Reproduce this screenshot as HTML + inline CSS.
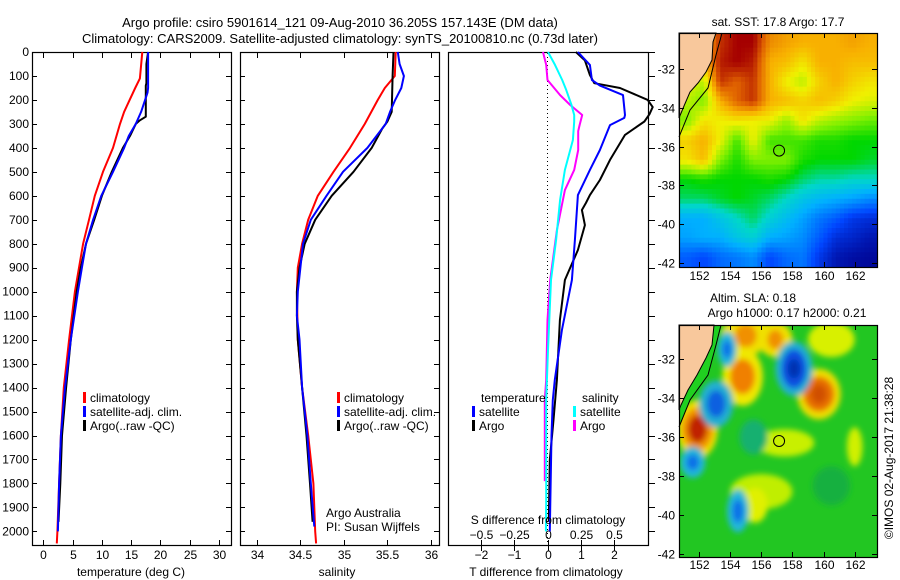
<!DOCTYPE html>
<html><head><meta charset="utf-8"><style>
html,body{margin:0;padding:0;background:#fff;}
svg{display:block;font-family:"Liberation Sans",sans-serif;}
text{font-size:12px;fill:#000;}
</style></head><body>
<svg id="root" width="900" height="580" viewBox="0 0 900 580" xmlns="http://www.w3.org/2000/svg">
<defs><filter id="blur" x="-50%" y="-50%" width="200%" height="200%"><feGaussianBlur stdDeviation="3"/></filter>
<clipPath id="map2clip"><rect x="679" y="325" width="198" height="232"/></clipPath>
<clipPath id="map1clip"><rect x="679" y="33" width="198" height="234"/></clipPath></defs>
<text x="340" y="27" text-anchor="middle" style="font-size:13px">Argo profile: csiro 5901614_121 09-Aug-2010 36.205S 157.143E (DM data)</text>
<text x="340" y="43" text-anchor="middle" style="font-size:13px">Climatology: CARS2009. Satellite-adjusted climatology: synTS_20100810.nc (0.73d later)</text>
</svg>
<script>
// ---- data ----
const depthTicks=[0,100,200,300,400,500,600,700,800,900,1000,1100,1200,1300,1400,1500,1600,1700,1800,1900,2000];
const tempTicks=[0,5,10,15,20,25,30];
const salTicks=[34,34.5,35,35.5,36];
const tdiffTicks=[-2,-1,0,1,2];
const sdiffTicks=[-0.5,-0.25,0,0.25,0.5];
const sdiffTickLabels=["-0.5","-0.25","0","0.25","0.5"];

const climTDepth=[0,110,150,250,300,400,500,600,700,800,900,1000,1200,1400,1600,1800,2000,2050];
const climT=[16.9,16.5,15.7,13.8,13.1,11.9,10.2,8.8,7.8,6.8,6.1,5.4,4.4,3.5,3.0,2.7,2.4,2.3];
const satTDepth=[0,150,170,250,300,350,400,500,600,700,800,900,1000,1200,1400,1600,1800,2000];
const satT=[17.9,17.9,17.8,16.7,15.8,14.6,13.8,11.9,9.9,8.5,7.3,6.6,5.9,4.7,3.7,3.0,2.7,2.5];
const argoTDepth=[0,50,130,140,270,285,300,350,400,500,600,700,800,900,1000,1200,1400,1600,1800,1960];
const argoT=[17.9,17.6,17.6,17.5,17.5,16.5,15.8,14.8,13.6,11.7,10.0,8.7,7.3,6.4,5.7,4.7,3.9,3.2,2.9,2.6];

const climSDepth=[0,100,150,200,300,400,500,600,700,800,900,1000,1200,1400,1600,1800,2000,2050];
const climS=[35.595,35.585,35.47,35.39,35.24,35.07,34.88,34.70,34.59,34.52,34.47,34.46,34.47,34.52,34.59,34.65,34.67,34.68];
const satSDepth=[0,50,100,150,200,250,300,400,500,600,700,800,900,1000,1100,1200,1400,1600,1800,1980];
const satS=[35.62,35.64,35.69,35.66,35.59,35.53,35.48,35.27,34.99,34.80,34.62,34.53,34.50,34.47,34.46,34.49,34.52,34.58,34.62,34.66];
const argoSDepth=[0,100,250,290,320,400,500,600,700,800,900,1000,1100,1200,1400,1600,1800,1960];
const argoS=[35.57,35.56,35.55,35.50,35.44,35.32,35.11,34.86,34.67,34.55,34.49,34.46,34.46,34.47,34.52,34.57,34.61,34.64];

const satTdDepth=[0,54,117,140,180,263,275,305,409,492,597,784,951,1160,1368,1452,1600,2000];
const satTd=[0.91,1.27,1.33,1.57,2.26,2.32,2.3,1.87,1.57,1.27,0.91,0.82,0.73,0.43,0.22,0.16,0.12,0.07];
const argoTdDepth=[0,35,96,130,150,200,230,260,290,346,450,534,597,630,659,722,826,951,1118,1368,1535,1702,1960];
const argoTd=[0.85,1.12,1.27,1.4,2.17,3.0,3.15,3.05,2.9,2.32,1.87,1.57,1.27,1.15,1.03,1.12,0.91,0.52,0.37,0.28,0.18,0.07,0.04];
const satSdDepth=[0,54,117,158,221,263,290,367,492,617,784,951,1243,1450,1869,2000];
const satSd=[0.004,0.056,0.11,0.14,0.18,0.2,0.2,0.19,0.13,0.094,0.064,0.026,0.004,-0.01,-0.01,-0.012];
const argoSdDepth=[0,54,117,180,221,263,305,330,409,492,576,743,951,1118,1368,1452,1790];
const argoSd=[-0.034,-0.01,0.0,0.094,0.17,0.26,0.24,0.23,0.23,0.2,0.13,0.07,0.02,0.0,-0.01,-0.02,-0.02];

const NS="http://www.w3.org/2000/svg";
const root=document.getElementById('root');
function mk(tag,attrs,parent){const e=document.createElementNS(NS,tag);for(const k in attrs)e.setAttribute(k,attrs[k]);(parent||root).appendChild(e);return e;}
function txt(x,y,s,anchor,parent){const e=mk('text',{x:x,y:y,'text-anchor':anchor||'start'},parent);e.textContent=s;return e;}

const Y0=52,YS=0.2397;
const yD=d=>Y0+d*YS;
const xT=v=>43.3+5.856*v;
const xS=v=>256.9+87.0*(v-34);
const xTd=v=>547.5+33.4*v;
const xSd=v=>547.5+133.6*v;
const panels=[[32,231],[240,439],[448,648]];

panels.forEach((p,i)=>{
  const r=mk('rect',{x:p[0]+0.5,y:52.5,width:p[1]-p[0],height:493,fill:'none',stroke:'#000','stroke-width':1.2});
  
  
  depthTicks.forEach(d=>{
    const y=Math.round(yD(d))+0.5;
    if(i<2){
      const t=mk('line',{x1:p[0],x2:p[0]+5,y1:y,y2:y,stroke:'#000'});
      
      
      const t2=mk('line',{x1:p[1]-5,x2:p[1],y1:y,y2:y,stroke:'#000'});
      
      
    } else {
      const t=mk('line',{x1:p[1]+1,x2:p[1]+7,y1:y,y2:y,stroke:'#000'});
      
      
    }
  });
});
depthTicks.forEach(d=>{
  const l=txt(29,yD(d)+4,String(d),'end');
  
  
});
function xticks(ticks,fx,name){
  ticks.forEach(v=>{
    const x=Math.round(fx(v))+0.5;
    const a=mk('line',{x1:x,x2:x,y1:540,y2:545,stroke:'#000'});
    
    
    const b=mk('line',{x1:x,x2:x,y1:53,y2:58,stroke:'#000'});
    
    
    const t=txt(x,559,String(v),'middle');
    
    
  });
}
xticks(tempTicks,xT,'temperature');
xticks(salTicks,xS,'salinity');
tdiffTicks.forEach(v=>{
  const x=Math.round(xTd(v))+0.5;
  const a=mk('line',{x1:x,x2:x,y1:546,y2:551,stroke:'#000'});
  
  
  const t=txt(x,559,String(v).replace('-','\u2212'),'middle');
  
  
});
sdiffTicks.forEach((v,i)=>{
  const x=Math.round(xSd(v))+0.5;
  const a=mk('line',{x1:x,x2:x,y1:540,y2:545,stroke:'#000'});
  
  
  const t=txt(x,539,sdiffTickLabels[i].replace('-','\u2212'),'middle');
  
  
});
const zl=mk('line',{x1:547.5,x2:547.5,y1:53,y2:545,stroke:'#000','stroke-dasharray':'1,3'});



function series(depths,vals,fx,color,name){
  let d='';
  depths.forEach((dp,i)=>{d+=(i?'L':'M')+fx(vals[i]).toFixed(1)+','+yD(dp).toFixed(1);});
  const p=mk('path',{d:d,fill:'none',stroke:color,'stroke-width':2,'stroke-linejoin':'round'});
  
  
}
series(climTDepth,climT,xT,'#f00','temperature-climatology-line');
series(argoTDepth,argoT,xT,'#000','temperature-argo-line');
series(satTDepth,satT,xT,'#00f','temperature-satellite-line');
series(climSDepth,climS,xS,'#f00','salinity-climatology-line');
series(argoSDepth,argoS,xS,'#000','salinity-argo-line');
series(satSDepth,satS,xS,'#00f','salinity-satellite-line');
series(argoSdDepth,argoSd,xSd,'#f0f','sdiff-argo-line');
series(satSdDepth,satSd,xSd,'#0ff','sdiff-satellite-line');
series(argoTdDepth,argoTd,xTd,'#000','tdiff-argo-line');
series(satTdDepth,satTd,xTd,'#00f','tdiff-satellite-line');

function legItem(x,y,color,label,name){
  const r=mk('rect',{x:x,y:y-10,width:3,height:11,fill:color});
  
  
  const t=txt(x+7,y,label);
  
  
}
[[83,'temp'],[337,'sal']].forEach(([x,n])=>{
  legItem(x,402,'#f00','climatology',n+'-legend-climatology');
  legItem(x,416,'#00f','satellite-adj. clim.',n+'-legend-satellite');
  legItem(x,430,'#000','Argo(..raw -QC)',n+'-legend-argo');
});
const lt=txt(481,402,'temperature');
const ls=txt(582,402,'salinity');
legItem(472,416,'#00f','satellite','diff-legend-t-satellite');
legItem(472,430,'#000','Argo','diff-legend-t-argo');
legItem(573,416,'#0ff','satellite','diff-legend-s-satellite');
legItem(573,430,'#f0f','Argo','diff-legend-s-argo');

[[131,576,'temperature (deg C)','temperature-axis-title'],[337,576,'salinity','salinity-axis-title'],[546,576,'T difference from climatology','tdiff-axis-title'],[548,524,'S difference from climatology','sdiff-axis-title']].forEach(a=>{
  const t=txt(a[0],a[1],a[2],'middle');
});
const c1=txt(326,517,'Argo Australia');
const c2=txt(326,531,'PI: Susan Wijffels');

// ---- maps ----
const mx=lon=>699+(lon-152)*15.57;
const my1=lat=>69+(-32-lat)*19.4;
const my2=lat=>359+(-32-lat)*19.5;
const stops=[[0,[0,0,140]],[0.15,[0,70,255]],[0.3,[0,176,255]],[0.4,[0,215,200]],[0.5,[0,215,0]],[0.6,[130,240,0]],[0.7,[240,240,0]],[0.8,[248,176,0]],[0.9,[225,100,0]],[1,[165,0,0]]];
function cmap(v){v=Math.max(0,Math.min(1,v));for(let i=1;i<stops.length;i++){if(v<=stops[i][0]){const a=stops[i-1],b=stops[i],f=(v-a[0])/(b[0]-a[0]);return 'rgb('+a[1].map((c,k)=>Math.round(c+(b[1][k]-c)*f)).join(',')+')';}}return 'rgb(165,0,0)';}
const sstGrid=[
[0.8,0.8,0.95,1,1,0.85,0.82,0.8,0.8,0.8,0.82,0.8],
[0.8,0.8,0.97,1,0.97,0.8,0.78,0.72,0.8,0.8,0.78,0.78],
[0.7,0.65,0.95,0.9,0.95,0.8,0.7,0.65,0.75,0.8,0.75,0.72],
[0.65,0.6,0.8,0.9,0.95,0.8,0.78,0.75,0.78,0.75,0.7,0.68],
[0.6,0.72,0.7,0.72,0.7,0.7,0.62,0.72,0.65,0.62,0.6,0.58],
[0.75,0.8,0.7,0.55,0.7,0.55,0.55,0.55,0.52,0.52,0.5,0.5],
[0.72,0.78,0.6,0.52,0.6,0.6,0.6,0.52,0.5,0.5,0.5,0.48],
[0.5,0.52,0.5,0.5,0.5,0.52,0.5,0.45,0.42,0.42,0.4,0.4],
[0.45,0.45,0.48,0.5,0.48,0.45,0.4,0.35,0.32,0.3,0.28,0.25],
[0.3,0.3,0.35,0.4,0.45,0.38,0.33,0.28,0.22,0.18,0.12,0.1],
[0.28,0.3,0.3,0.35,0.38,0.3,0.28,0.25,0.18,0.1,0.08,0.05],
[0.18,0.15,0.2,0.22,0.25,0.15,0.2,0.22,0.12,0.05,0.03,0.02]];
const g1=mk('g',{'clip-path':'url(#map1clip)'});


const SUB=4,NC=12*SUB,NR=12*SUB,cw=198/NC,ch=234/NR;
function sample(r,c){ // bilinear in grid-cell centre coords
  const fr=Math.max(0,Math.min(11,(r+0.5)/SUB-0.5)),fc=Math.max(0,Math.min(11,(c+0.5)/SUB-0.5));
  const r0=Math.floor(fr),c0=Math.floor(fc),r1=Math.min(11,r0+1),c1=Math.min(11,c0+1),a=fr-r0,b=fc-c0;
  return sstGrid[r0][c0]*(1-a)*(1-b)+sstGrid[r0][c1]*(1-a)*b+sstGrid[r1][c0]*a*(1-b)+sstGrid[r1][c1]*a*b;
}
for(let r=0;r<NR;r++)for(let c=0;c<NC;c++){
  const cell=mk('rect',{x:(679+c*cw).toFixed(2),y:(33+r*ch).toFixed(2),width:(cw+0.5).toFixed(2),height:(ch+0.5).toFixed(2),fill:cmap(sample(r,c))},g1);
  
  
}
const g2=mk('g',{'clip-path':'url(#map2clip)'});


mk('rect',{x:679,y:325,width:198,height:232,fill:'#22c622'},g2);
const gb=mk('g',{filter:'url(#blur)'},g2);
const blobs=[
[157.5,-36.3,1.9,0.7,'#c8f000'],[156,-38.8,2.0,0.9,'#c0ee00'],[155.6,-39.5,0.8,0.9,'#e0f000'],[162,-36.5,0.5,1.0,'#d0f000'],[160.5,-31,1.5,0.9,'#d8f000'],
[155,-30.8,1.6,1.0,'#f0e000'],[155,-30.8,0.7,0.6,'#f09000'],[156.9,-31,1.1,0.9,'#f0e000'],[156.9,-31,0.5,0.5,'#f09000'],
[154.8,-32.9,1.3,1.5,'#f0e800'],[154.8,-32.9,0.8,0.9,'#f08000'],
[159.7,-33.8,1.4,1.3,'#f0e000'],[159.7,-33.8,1.0,0.9,'#e87000'],[159.7,-33.8,0.5,0.5,'#d05000'],
[151.9,-35.6,1.3,1.5,'#f0e000'],[151.9,-35.6,1.0,1.1,'#f09000'],[151.9,-35.6,0.6,0.7,'#c02000'],
[158.1,-32.5,1.2,1.4,'#20b0d0'],[158.1,-32.5,0.8,1.0,'#1050e0'],[158.1,-32.5,0.4,0.5,'#0030b0'],
[153.1,-34.3,1.1,1.2,'#20b0d0'],[153.1,-34.3,0.6,0.7,'#1060e0'],
[151.6,-37.3,0.8,0.8,'#20b8d8'],[151.6,-37.3,0.4,0.4,'#1070e8'],
[154.5,-39.8,0.7,1.1,'#20b8d8'],[154.5,-39.8,0.35,0.6,'#1070e8'],
[153.8,-31.5,0.6,0.9,'#20b8d8'],[153.8,-31.5,0.3,0.45,'#1070e8'],
[155.5,-36,0.9,0.9,'#18b070'],[160.5,-38.5,1.2,1.0,'#18b040']];
blobs.forEach(b=>{
  const e=mk('ellipse',{cx:mx(b[0]),cy:my2(b[1]),rx:b[2]*15.57,ry:b[3]*19.5,fill:b[4]},gb);
  
  
});
[[33,[[679,33],[716,33],[713,42],[712,60],[706,72],[698,83],[690,92],[684,106],[679,118]],[[722,33],[716,55],[708,88],[690,110],[679,137]],'sst'],
 [325,[[679,325],[714,325],[712,345],[706,358],[697,375],[688,390],[681,405],[679,410]],[[721,325],[716,345],[708,375],[690,400],[679,427]],'sla']].forEach(([top,land,shelf,n])=>{
  if(n==='sla'){
    const shelfPoly=mk('polygon',{points:[[679,top]].concat(shelf).concat([[679,top+200]]).map(p=>p.join(',')).join(' '),fill:'#20d020',stroke:'none'});
    
    
  }
  const l=mk('polygon',{points:land.map(p=>p.join(',')).join(' '),fill:'#f8c89c',stroke:'#000','stroke-width':1});
  
  
  const s=mk('polyline',{points:shelf.map(p=>p.join(',')).join(' '),fill:'none',stroke:'#000','stroke-width':1});
  
  
});
const latTicks=[-32,-34,-36,-38,-40,-42];
const lonTicks=[152,154,156,158,160,162];
[[33,267,my1,280,'sst'],[325,557,my2,569,'sla']].forEach(([t,b,fy,ly,n])=>{
  const fr=mk('rect',{x:679.5,y:t+0.5,width:198,height:b-t,fill:'none',stroke:'#000','stroke-width':1.2});
  
  
  latTicks.forEach(v=>{
    const y=Math.round(fy(v))+0.5;
    const a=mk('line',{x1:679,x2:684,y1:y,y2:y,stroke:'#000'});
    const c=mk('line',{x1:872,x2:877,y1:y,y2:y,stroke:'#000'});
    const l=txt(675,y+4,String(v),'end');
  });
  lonTicks.forEach(v=>{
    const x=Math.round(mx(v))+0.5;
    const a=mk('line',{x1:x,x2:x,y1:t,y2:t+5,stroke:'#000'});
    const c=mk('line',{x1:x,x2:x,y1:b-5,y2:b,stroke:'#000'});
    const l=txt(x,ly,String(v),'middle');
  });
  const pos=mk('circle',{cx:mx(157.143),cy:fy(-36.205),r:5.5,fill:'none',stroke:'#000','stroke-width':1});
  
  
});
[[778,26,'sat. SST: 17.8 Argo: 17.7','sst-map-title'],[753,302,'Altim. SLA: 0.18','sla-map-title'],[787,317,'Argo h1000: 0.17 h2000: 0.21','sla-map-subtitle']].forEach(a=>{
  const t=txt(a[0],a[1],a[2],'middle');
});
const cr=txt(0,0,'\u00a9IMOS 02-Aug-2017 21:38:28','middle');
cr.setAttribute('transform','translate(893,458) rotate(-90)');


</script>
</body></html>
